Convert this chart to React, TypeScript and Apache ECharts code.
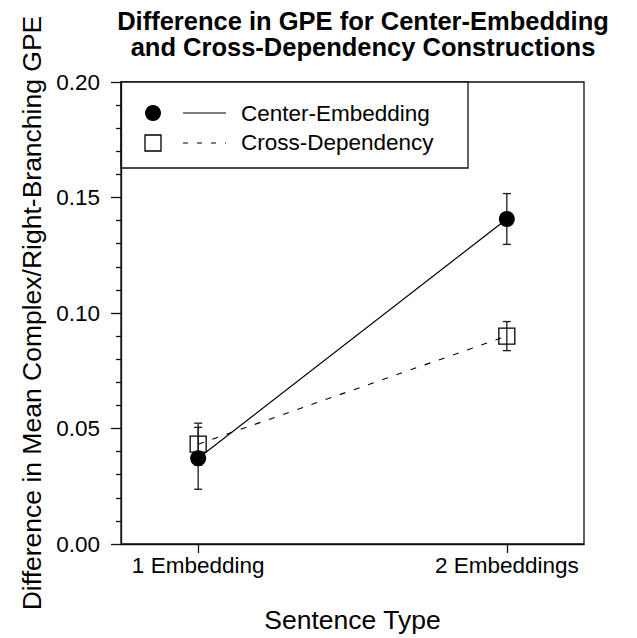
import React, { useEffect, useRef } from "react";
import * as echarts from "echarts";

const titleLines = ["Difference in GPE for Center-Embedding", "and Cross-Dependency Constructions"];
const categories = ["1 Embedding", "2 Embeddings"];
const xPositions = [1, 2];
const seriesNames = ["Center-Embedding", "Cross-Dependency"];
const centerEmbedding = [0.0371, 0.1407];
const centerEmbeddingErr = [0.0134, 0.011];
const crossDependency = [0.0432, 0.09];
const crossDependencyErr = [0.0091, 0.0063];
const yAxisName = "Difference in Mean Complex/Right-Branching GPE";
const xAxisName = "Sentence Type";

const FONT = "'Liberation Sans', Arial, Helvetica, sans-serif";

export default function App() {
  const ref = useRef<HTMLDivElement>(null);
  useEffect(() => {
    if (!ref.current) return;
    const chart = echarts.init(ref.current, null, { renderer: "svg" });

    const errData = (vals: number[], errs: number[]) =>
      xPositions.map((x, i) => [x, vals[i] - errs[i], vals[i] + errs[i]]);

    const errStyle = { stroke: "#1a1a1a", lineWidth: 1.3 };
    const renderErr = (params: any, api: any) => {
      const x = api.value(0);
      const lo = api.coord([x, api.value(1)]);
      const hi = api.coord([x, api.value(2)]);
      const w = 4;
      return {
        type: "group",
        children: [
          { type: "line", shape: { x1: lo[0], y1: lo[1], x2: hi[0], y2: hi[1] }, style: errStyle },
          { type: "line", shape: { x1: lo[0] - w, y1: lo[1], x2: lo[0] + w, y2: lo[1] }, style: errStyle },
          { type: "line", shape: { x1: hi[0] - w, y1: hi[1], x2: hi[0] + w, y2: hi[1] }, style: errStyle },
        ],
      };
    };

    const option: any = {
      animation: false,
      backgroundColor: "#fff",
      textStyle: { fontFamily: FONT, color: "#000" },
      grid: {
        left: 121,
        right: 53,
        top: 82,
        bottom: 94,
        show: true,
        borderColor: "#111",
        borderWidth: 1.3,
        backgroundColor: "transparent",
      },
      xAxis: {
        type: "value",
        min: 0.75,
        max: 2.25,
        interval: 0.25,
        name: xAxisName,
        nameLocation: "middle",
        nameGap: 62,
        nameTextStyle: { fontSize: 26.5, color: "#000", fontFamily: FONT },
        axisLine: { show: true, lineStyle: { color: "#111", width: 1.3 } },
        axisTick: { show: true, length: 9, customValues: xPositions, lineStyle: { color: "#111", width: 1.3 } },
        axisLabel: {
          customValues: xPositions,
          margin: 10,
          fontSize: 22.5,
          color: "#000",
          fontFamily: FONT,
          formatter: (v: number) => {
            const i = xPositions.indexOf(v);
            return i >= 0 ? categories[i] : "";
          },
        },
        splitLine: { show: false },
      },
      yAxis: {
        type: "value",
        min: 0,
        max: 0.2,
        interval: 0.05,
        name: yAxisName,
        nameLocation: "middle",
        nameGap: 74,
        nameRotate: 90,
        nameTextStyle: { fontSize: 26.5, color: "#000", fontFamily: FONT },
        axisLine: { show: true, lineStyle: { color: "#111", width: 1.3 } },
        axisTick: { show: true, length: 10, lineStyle: { color: "#111", width: 1.3 } },
        minorTick: { show: true, splitNumber: 5, length: 5, lineStyle: { color: "#111", width: 1.3 } },
        axisLabel: {
          margin: 21,
          fontSize: 22.5,
          color: "#000",
          fontFamily: FONT,
          formatter: (v: number) => v.toFixed(2),
        },
        splitLine: { show: false },
        minorSplitLine: { show: false },
      },
      series: [
        {
          type: "custom",
          name: seriesNames[1] + " error",
          data: errData(crossDependency, crossDependencyErr),
          encode: { x: 0, y: [1, 2] },
          renderItem: renderErr,
          z: 1,
          silent: true,
        },
        {
          type: "custom",
          name: seriesNames[0] + " error",
          data: errData(centerEmbedding, centerEmbeddingErr),
          encode: { x: 0, y: [1, 2] },
          renderItem: renderErr,
          z: 1,
          silent: true,
        },
        {
          type: "line",
          name: seriesNames[1],
          data: xPositions.map((x, i) => [x, crossDependency[i]]),
          symbol: "rect",
          symbolSize: 16,
          showSymbol: true,
          lineStyle: { color: "#000", width: 1.1, type: [6, 9] },
          itemStyle: { color: "rgba(0,0,0,0)", borderColor: "#000", borderWidth: 1.3 },
          z: 2,
        },
        {
          type: "line",
          name: seriesNames[0],
          data: xPositions.map((x, i) => [x, centerEmbedding[i]]),
          symbol: "circle",
          symbolSize: 16,
          showSymbol: true,
          lineStyle: { color: "#000", width: 1.2, type: "solid" },
          itemStyle: { color: "#000", borderColor: "#000", borderWidth: 0 },
          z: 3,
        },
      ],
      graphic: [
        {
          type: "text",
          x: 363,
          y: 8,
          z: 10,
          style: {
            text: titleLines.join("\n"),
            textAlign: "center",
            textVerticalAlign: "top",
            font: `bold 25.5px ${FONT}`,
            lineHeight: 26,
            fill: "#000",
          },
        },
        {
          type: "group",
          z: 10,
          children: [
            {
              type: "rect",
              shape: { x: 121, y: 82, width: 347, height: 86 },
              style: { fill: "#fff", stroke: "#111", lineWidth: 1.3 },
            },
            { type: "circle", shape: { cx: 153, cy: 113, r: 8 }, style: { fill: "#000" } },
            {
              type: "line",
              shape: { x1: 183, y1: 113, x2: 226, y2: 113 },
              style: { stroke: "#000", lineWidth: 1.2 },
            },
            {
              type: "text",
              x: 241,
              y: 113,
              style: {
                text: seriesNames[0],
                textVerticalAlign: "middle",
                font: `22.5px ${FONT}`,
                fill: "#000",
              },
            },
            {
              type: "rect",
              shape: { x: 145, y: 135, width: 16, height: 16 },
              style: { fill: "#fff", stroke: "#000", lineWidth: 1.3 },
            },
            {
              type: "line",
              shape: { x1: 183, y1: 143, x2: 226, y2: 143 },
              style: { stroke: "#000", lineWidth: 1.1, lineDash: [5, 9] },
            },
            {
              type: "text",
              x: 241,
              y: 142,
              style: {
                text: seriesNames[1],
                textVerticalAlign: "middle",
                font: `22.5px ${FONT}`,
                fill: "#000",
              },
            },
          ],
        },
      ],
    };

    chart.setOption(option);
    return () => chart.dispose();
  }, []);

  return (
    <div
      ref={ref}
      style={{ position: "fixed", left: 0, top: 0, width: 637, height: 638, background: "#fff" }}
    />
  );
}
